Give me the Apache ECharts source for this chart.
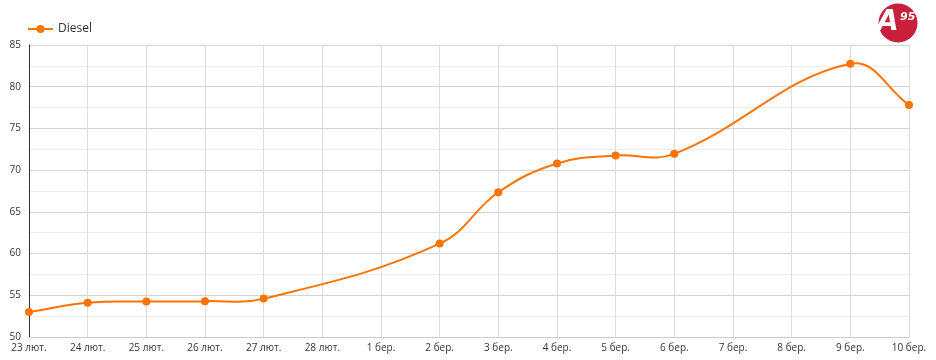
<!DOCTYPE html>
<html><head><meta charset="utf-8">
<script src="https://cdn.jsdelivr.net/npm/echarts@6/dist/echarts.min.js"></script>
<style>html,body{margin:0;padding:0;background:#fff}#c{width:936px;height:360px}</style>
</head><body><div id="c"></div>
<script>
var categories = ['23 лют.','24 лют.','25 лют.','26 лют.','27 лют.','28 лют.','1 бер.','2 бер.','3 бер.','4 бер.','5 бер.','6 бер.','7 бер.','8 бер.','9 бер.','10 бер.'];
var diesel = [53.0, 54.1, 54.25, 54.3, 54.6, null, null, 61.2, 67.35, 70.8, 71.75, 71.95, null, null, 82.75, 77.8];
var seriesName = 'Diesel';

var points = [];
diesel.forEach(function (v, i) { if (v !== null) points.push([i, v]); });

function curveRender(params, api) {
  var pts = points.map(function (p) { return api.coord(p); });
  var t = 0.4, n = pts.length, cps = [];
  for (var i = 0; i < n; i++) {
    var prev = pts[Math.max(0, i - 1)], cur = pts[i], next = pts[Math.min(n - 1, i + 1)];
    var d01 = Math.hypot(cur[0] - prev[0], cur[1] - prev[1]);
    var d12 = Math.hypot(next[0] - cur[0], next[1] - cur[1]);
    var s01 = d01 / (d01 + d12 || 1), s12 = d12 / (d01 + d12 || 1);
    var fa = t * s01, fb = t * s12;
    cps.push({
      p: [cur[0] - fa * (next[0] - prev[0]), cur[1] - fa * (next[1] - prev[1])],
      n: [cur[0] + fb * (next[0] - prev[0]), cur[1] + fb * (next[1] - prev[1])]
    });
  }
  var d = 'M' + pts[0][0] + ' ' + pts[0][1];
  for (var j = 1; j < n; j++) {
    var c1 = cps[j - 1].n, c2 = cps[j].p;
    d += ' C' + c1[0] + ' ' + c1[1] + ' ' + c2[0] + ' ' + c2[1] + ' ' + pts[j][0] + ' ' + pts[j][1];
  }
  return {type: 'path', shape: {pathData: d}, style: {fill: 'none', stroke: '#ff7300', lineWidth: 2}};
}

var chart = echarts.init(document.getElementById('c'));
chart.setOption({
  animation: false,
  textStyle: {fontFamily: 'Open Sans'},
  legend: {left: 22, top: 18, itemWidth: 25, itemHeight: 10, textStyle: {fontSize: 12, color: '#333'}, data: [seriesName],
           lineStyle: {color: '#ff7300', width: 2, opacity: 1}},
  grid: {left: 29, right: 27, top: 45, bottom: 23},
  xAxis: {
    type: 'value', min: 0, max: categories.length - 1, interval: 1,
    axisLine: {lineStyle: {color: '#ccc'}}, axisTick: {show: false},
    axisLabel: {color: '#333', fontSize: 10, margin: 6, formatter: function (v) { return categories[v] || ''; }},
    splitLine: {show: true, lineStyle: {color: '#ddd'}}
  },
  yAxis: {
    type: 'value', min: 50, max: 85, interval: 5,
    axisLine: {show: true, lineStyle: {color: '#333'}}, axisTick: {show: false},
    axisLabel: {color: '#333', fontSize: 10, margin: 8},
    splitLine: {lineStyle: {color: '#d4d4d4'}},
    minorTick: {show: false, splitNumber: 2},
    minorSplitLine: {show: true, lineStyle: {color: '#ececec'}}
  },
  series: [{
    name: 'curve', type: 'custom', data: [[0, 50]], renderItem: curveRender, z: 2, silent: true
  }, {
    name: seriesName, type: 'line', data: points,
    symbol: 'circle', symbolSize: 8, z: 3,
    itemStyle: {color: '#ff7300'}, lineStyle: {color: '#ff7300', width: 2, opacity: 0}
  }],
  graphic: [
    {type: 'circle', shape: {cx: 898, cy: 23, r: 19.5}, style: {fill: '#c8203a'}},
    {type: 'text', left: 877, top: 9, style: {text: 'A', fill: '#fff', font: 'italic bold 28px "DejaVu Sans"'}},
    {type: 'text', left: 900, top: 12, style: {text: '95', fill: '#fff', font: 'italic bold 11px "DejaVu Sans"'}}
  ]
});
</script></body></html>
